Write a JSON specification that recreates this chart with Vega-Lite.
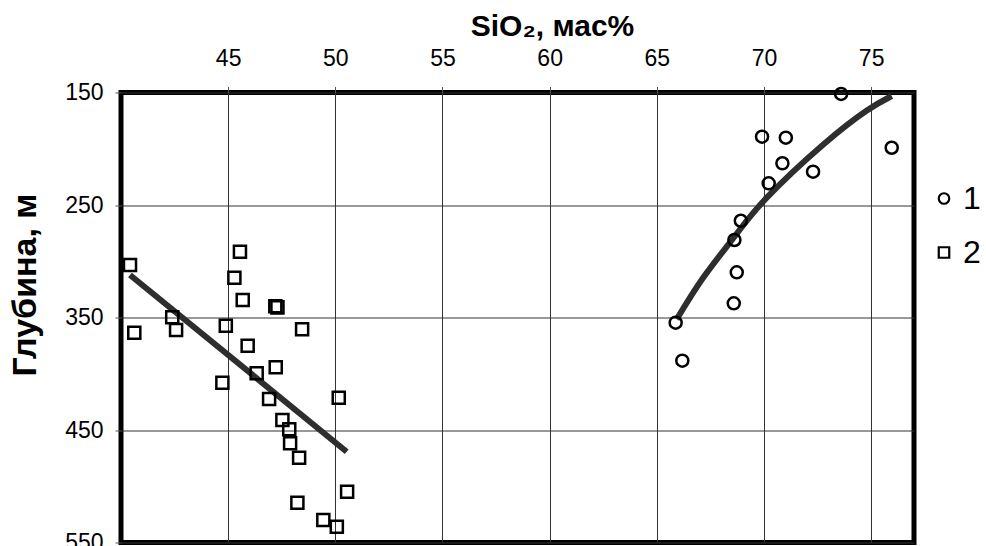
{
  "$schema": "https://vega.github.io/schema/vega-lite/v6.json",
  "width": 793,
  "height": 450,
  "autosize": {"type": "none"},
  "padding": {"left": 121, "top": 92.5, "right": 72, "bottom": 3.5},
  "background": "white",
  "config": {
    "font": "Liberation Sans",
    "view": {"stroke": "black", "strokeWidth": 5},
    "axis": {
      "domain": false,
      "grid": true,
      "gridColor": "#333",
      "gridWidth": 1,
      "gridOpacity": 1,
      "tickColor": "#555",
      "tickWidth": 1,
      "tickSize": 6,
      "labelFont": "Liberation Sans",
      "labelFontSize": 23,
      "labelColor": "black",
      "titleFont": "Liberation Sans",
      "titleColor": "black",
      "titleFontWeight": "bold"
    }
  },
  "datasets": {
    "pts": [
      {"sio2": 73.6, "depth": 151.3, "grp": "1"},
      {"sio2": 69.91, "depth": 189.3, "grp": "1"},
      {"sio2": 71.02, "depth": 190.2, "grp": "1"},
      {"sio2": 75.96, "depth": 199.1, "grp": "1"},
      {"sio2": 70.86, "depth": 212.9, "grp": "1"},
      {"sio2": 72.29, "depth": 220.4, "grp": "1"},
      {"sio2": 70.22, "depth": 230.7, "grp": "1"},
      {"sio2": 68.92, "depth": 264.0, "grp": "1"},
      {"sio2": 68.62, "depth": 281.1, "grp": "1"},
      {"sio2": 68.73, "depth": 309.8, "grp": "1"},
      {"sio2": 68.59, "depth": 337.4, "grp": "1"},
      {"sio2": 65.88, "depth": 354.6, "grp": "1"},
      {"sio2": 66.19, "depth": 388.4, "grp": "1"},
      {"sio2": 40.42, "depth": 303.3, "grp": "2"},
      {"sio2": 40.62, "depth": 363.5, "grp": "2"},
      {"sio2": 45.55, "depth": 291.5, "grp": "2"},
      {"sio2": 45.29, "depth": 314.6, "grp": "2"},
      {"sio2": 45.68, "depth": 334.4, "grp": "2"},
      {"sio2": 47.2, "depth": 340.0, "grp": "2"},
      {"sio2": 47.3, "depth": 341.0, "grp": "2"},
      {"sio2": 42.39, "depth": 349.8, "grp": "2"},
      {"sio2": 42.57, "depth": 361.1, "grp": "2"},
      {"sio2": 44.89, "depth": 357.3, "grp": "2"},
      {"sio2": 48.45, "depth": 360.5, "grp": "2"},
      {"sio2": 45.91, "depth": 375.1, "grp": "2"},
      {"sio2": 47.22, "depth": 394.3, "grp": "2"},
      {"sio2": 46.33, "depth": 399.6, "grp": "2"},
      {"sio2": 44.73, "depth": 408.0, "grp": "2"},
      {"sio2": 46.91, "depth": 422.4, "grp": "2"},
      {"sio2": 50.16, "depth": 421.3, "grp": "2"},
      {"sio2": 47.53, "depth": 441.1, "grp": "2"},
      {"sio2": 47.85, "depth": 449.4, "grp": "2"},
      {"sio2": 47.89, "depth": 461.8, "grp": "2"},
      {"sio2": 48.31, "depth": 474.6, "grp": "2"},
      {"sio2": 50.55, "depth": 504.8, "grp": "2"},
      {"sio2": 48.23, "depth": 514.6, "grp": "2"},
      {"sio2": 49.44, "depth": 530.0, "grp": "2"},
      {"sio2": 50.07, "depth": 536.0, "grp": "2"}
    ],
    "trend1": [
      {"sio2": 65.93, "depth": 351.6},
      {"sio2": 67.17, "depth": 314.5},
      {"sio2": 68.62, "depth": 278.2},
      {"sio2": 70.13, "depth": 243.5},
      {"sio2": 72.77, "depth": 196.2},
      {"sio2": 74.8, "depth": 166.0},
      {"sio2": 75.96, "depth": 153.1}
    ],
    "trend2": [
      {"sio2": 40.42, "depth": 312.2},
      {"sio2": 50.53, "depth": 469.3}
    ]
  },
  "encoding": {
    "x": {
      "field": "sio2",
      "type": "quantitative",
      "scale": {"domain": [40, 77], "nice": false, "zero": false},
      "axis": {
        "orient": "top",
        "values": [45, 50, 55, 60, 65, 70, 75],
        "title": "SiO₂, мас%",
        "titleFontSize": 30,
        "titleX": 431,
        "titleY": -57,
        "titleBaseline": "alphabetic",
        "titleAlign": "center",
        "labelBaseline": "alphabetic",
        "labelPadding": 21.5
      }
    },
    "y": {
      "field": "depth",
      "type": "quantitative",
      "scale": {"domain": [150, 550], "reverse": true, "nice": false, "zero": false},
      "axis": {
        "values": [150, 250, 350, 450, 550],
        "title": "Глубина, м",
        "titleFontSize": 34,
        "titleAngle": -90,
        "titleX": -96,
        "titleY": 192,
        "titleAlign": "center",
        "titleBaseline": "middle",
        "labelPadding": 12
      }
    }
  },
  "layer": [
    {
      "data": {"name": "trend1"},
      "mark": {"type": "line", "interpolate": "natural", "color": "#2e2e2e", "strokeWidth": 6}
    },
    {
      "data": {"name": "trend2"},
      "mark": {"type": "line", "color": "#2e2e2e", "strokeWidth": 6}
    },
    {
      "data": {"name": "pts"},
      "mark": {"type": "point", "filled": false, "strokeWidth": 2.5, "size": 145, "opacity": 1},
      "encoding": {
        "shape": {
          "field": "grp",
          "type": "nominal",
          "scale": {"domain": ["1", "2"], "range": ["circle", "square"]},
          "legend": {
            "title": null,
            "orient": "none",
            "legendX": 807,
            "legendY": 90,
            "labelFontSize": 32,
            "labelFont": "Liberation Sans",
            "labelColor": "black",
            "symbolSize": 110,
            "symbolStrokeWidth": 2.2,
            "symbolStrokeColor": "black",
            "symbolFillColor": "transparent",
            "labelOffset": 3,
            "rowPadding": 22
          }
        },
        "color": {"value": "black"}
      }
    }
  ]
}
